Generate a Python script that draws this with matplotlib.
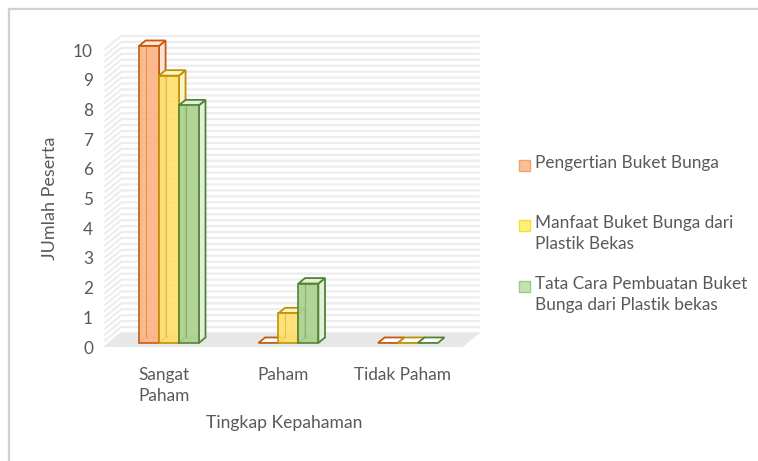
import numpy as np
import matplotlib
matplotlib.use("Agg")
import matplotlib.pyplot as plt
from matplotlib.patches import Polygon, Rectangle

plt.rcParams['font.family'] = ['Lato', 'DejaVu Sans']

categories = ["Sangat\nPaham", "Paham", "Tidak Paham"]
series = ["Pengertian Buket Bunga",
          "Manfaat Buket Bunga dari\nPlastik Bekas",
          "Tata Cara Pembuatan Buket\nBunga dari Plastik bekas"]
pengertian = [10, 0, 0]
manfaat = [9, 1, 0]
tata_cara = [8, 2, 0]
values = [pengertian, manfaat, tata_cara]

face = ["#FDB383", "#FFDF6B", "#A9D18E"]
edge = ["#C55A11", "#BF9000", "#548235"]
light = ["#FDE3D2", "#FFF4C8", "#E2F0D9"]
leg_face = ["#F9BF97", "#FFF07A", "#C5E3B2"]
leg_edge = ["#F3A26E", "#F5DC3C", "#9CCB80"]
text_col = "#595959"
fs = 12.4

W, H = 758, 461
fig = plt.figure(figsize=(W / 100, H / 100), dpi=100)

# plot area (front plane of the 3D box)
px_l, px_r, px_t, px_b = 100, 490, 25, 352
ax = fig.add_axes([px_l / W, 1 - px_b / H, (px_r - px_l) / W, (px_b - px_t) / H])
cat_px0, cat_step = 164, 119.5
y0_px, y_step = 347, 29.7
ax.set_xlim((px_l - cat_px0) / cat_step, (px_r - cat_px0) / cat_step)
ax.set_ylim((y0_px - px_b) / y_step, (y0_px - px_t) / y_step)

dx, dy = 17 / cat_step, 14 / y_step      # depth of the floor
xl, xr = -0.5, 2.5

# back wall + left wall gridlines
for v in np.arange(0, 10.01, 0.2):
    ax.plot([xl, xl + dx, xr + dx], [v, v + dy, v + dy], color="#EDEDED",
            lw=1.6, zorder=1, solid_capstyle="butt")
# floor
ax.add_patch(Polygon([(xl, 0), (xr, 0), (xr + dx, dy), (xl + dx, dy)],
                     closed=True, fc="#E7E7E7", ec="none", zorder=2))

# bars (front plane sits part way into the floor depth)
bw = 0.167
f0, f1 = 0.29, 0.68
for j in range(3):
    for i in range(3):
        v = values[j][i]
        xa = i + (j - 1) * bw - bw / 2 + f0 * dx
        xb = xa + bw
        base = f0 * dy
        ddx, ddy = (f1 - f0) * dx, (f1 - f0) * dy
        z = 3 + j
        if v == 0:
            ax.add_patch(Polygon([(xa, base), (xb, base), (xb + ddx, base + ddy),
                                  (xa + ddx, base + ddy)], closed=True,
                                 fc="white", ec=edge[j], lw=1.3, zorder=z))
            continue
        top = base + v
        # back edges seen through the bar
        ax.plot([xa + ddx, xa + ddx], [base + ddy, top + ddy], color=edge[j],
                lw=0.8, alpha=0.5, zorder=z)
        ax.plot([xa, xa + ddx, xb + ddx], [base, base + ddy, base + ddy],
                color=edge[j], lw=0.8, alpha=0.5, zorder=z)
        # side face
        ax.add_patch(Polygon([(xb, base), (xb + ddx, base + ddy), (xb + ddx, top + ddy),
                              (xb, top)], closed=True, fc=light[j], ec=edge[j],
                             lw=1.3, zorder=z))
        # top face
        ax.add_patch(Polygon([(xa, top), (xb, top), (xb + ddx, top + ddy),
                              (xa + ddx, top + ddy)], closed=True, fc=light[j],
                             ec=edge[j], lw=1.3, zorder=z))
        # front face
        ax.bar(xa + bw / 2, v, bw, bottom=base, color=face[j], edgecolor=edge[j],
               lw=1.3, zorder=z + 0.5, alpha=0.9)
        ax.plot([xa + ddx, xa + ddx], [base + ddy, top], color=edge[j],
                lw=0.8, alpha=0.35, zorder=z + 0.6)

for s in ax.spines.values():
    s.set_visible(False)
ax.set_yticks(range(0, 11))
ax.set_xticks(range(3))
ax.set_xticklabels(categories, multialignment="left", linespacing=1.4)
ax.tick_params(length=0, labelsize=fs, colors=text_col)
ax.tick_params(axis="y", pad=5)
ax.tick_params(axis="x", pad=11)

fig.text(284 / W, 1 - 423 / H, "Tingkap Kepahaman", ha="center", va="center",
         fontsize=fs + 0.2, color=text_col)
fig.text(50 / W, 1 - 198 / H, "JUmlah Peserta", ha="center", va="center",
         rotation=90, fontsize=fs + 0.6, color=text_col)

# legend
leg_y = [165, 225, 286]
for j in range(3):
    fig.patches.append(Rectangle((519 / W, 1 - (leg_y[j] + 6) / H), 11 / W, 11 / H,
                                 transform=fig.transFigure, fc=leg_face[j],
                                 ec=leg_edge[j], lw=1))
    fig.text(535 / W, 1 - (leg_y[j] - 10) / H, series[j], ha="left", va="top",
             fontsize=fs, color=text_col, linespacing=1.4)

# chart border
fig.patches.append(Rectangle((8.5 / W, -0.1), 1.2, 1 - 8.5 / H + 0.1,
                             transform=fig.transFigure, fill=False,
                             ec="#D0D0D0", lw=1.6))

fig.savefig("out.png", dpi=100)
